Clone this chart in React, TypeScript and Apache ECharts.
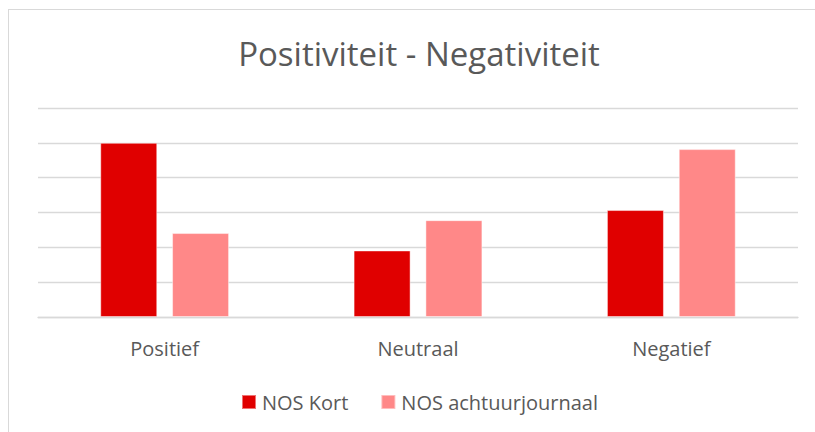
import React, { useEffect, useRef } from "react";
import * as echarts from "echarts";

const categories = ["Positief", "Neutraal", "Negatief"];
const nosKort = [5.0, 1.91, 3.07];
const nosAchtuur = [2.41, 2.78, 4.82];
const seriesNames = ["NOS Kort", "NOS achtuurjournaal"];
const titleText = "Positiviteit - Negativiteit";

export default function App() {
  const ref = useRef<HTMLDivElement>(null);
  useEffect(() => {
    if (!ref.current) return;
    const chart = echarts.init(ref.current, undefined, { renderer: "svg" });
    const font = "'Open Sans', 'Noto Sans', sans-serif";
    chart.setOption({
      animation: false,
      backgroundColor: "#ffffff",
      textStyle: { fontFamily: font },
      title: {
        text: titleText,
        left: 414,
        top: 32,
        textAlign: "center",
        textStyle: { fontFamily: font, fontSize: 33, fontWeight: "normal", color: "#595959" },
      },
      graphic: [
        { type: "line", shape: { x1: 8, y1: 9.5, x2: 815, y2: 9.5 }, style: { stroke: "#d9d9d9", lineWidth: 1 } },
        { type: "line", shape: { x1: 8.5, y1: 9, x2: 8.5, y2: 432 }, style: { stroke: "#d9d9d9", lineWidth: 1 } },
      ],
      legend: {
        left: 236,
        top: 387,
        itemWidth: 14,
        itemHeight: 14,
        itemGap: 32,
        icon: "rect",
        textStyle: { fontFamily: font, fontSize: 20, color: "#595959", padding: [0, 0, 0, 1] },
        data: seriesNames,
      },
      grid: { left: 38, right: 17, top: 108, bottom: 115 },
      xAxis: {
        type: "category",
        data: categories,
        axisLine: { lineStyle: { color: "#d9d9d9", width: 1.3 } },
        axisTick: { show: false },
        axisLabel: { color: "#595959", fontSize: 20, margin: 21, fontFamily: font },
      },
      yAxis: {
        type: "value",
        min: 0,
        max: 6,
        interval: 1,
        axisLabel: { show: false },
        axisLine: { show: false },
        axisTick: { show: false },
        splitLine: { lineStyle: { color: "#d9d9d9", width: 1.3 } },
      },
      series: [
        {
          name: seriesNames[0],
          type: "bar",
          data: nosKort,
          barWidth: 57,
          barGap: "26%",
          itemStyle: { color: "#E00000", borderColor: "rgba(255,255,255,0.45)", borderWidth: 1 },
        },
        {
          name: seriesNames[1],
          type: "bar",
          data: nosAchtuur,
          barWidth: 57,
          barGap: "26%",
          itemStyle: { color: "#FF8888", borderColor: "rgba(255,255,255,0.45)", borderWidth: 1 },
        },
      ],
    });
    return () => chart.dispose();
  }, []);
  return (
    <div
      ref={ref}
      style={{ position: "absolute", left: 0, top: 0, width: 815, height: 432 }}
    />
  );
}
